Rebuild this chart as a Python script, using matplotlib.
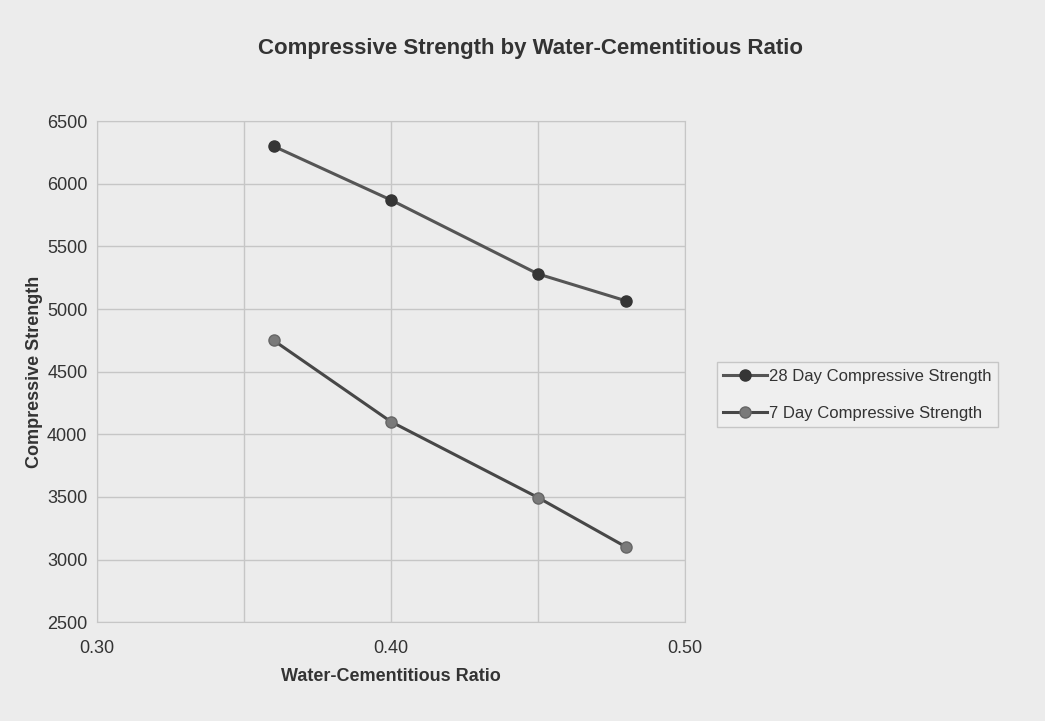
"""Compressive strength vs water-cementitious ratio chart."""

import matplotlib

matplotlib.use("Agg")
import matplotlib.pyplot as plt  # noqa: E402
from matplotlib.ticker import MultipleLocator  # noqa: E402

wc_ratio = [0.36, 0.40, 0.45, 0.48]
strength_28_day = [6300, 5870, 5280, 5065]
strength_7_day = [4750, 4100, 3495, 3100]
series_labels = ["28 Day Compressive Strength", "7 Day Compressive Strength"]
x_ticks = [0.30, 0.40, 0.50]
y_ticks = [2500, 3000, 3500, 4000, 4500, 5000, 5500, 6000, 6500]

plt.rcParams["font.family"] = ["Liberation Sans", "DejaVu Sans"]

bg = "#ececec"
ink = "#333333"
fig = plt.figure(figsize=(10.45, 7.21), dpi=100, facecolor=bg)
ax = fig.add_axes([0.093, 0.137, 0.5625, 0.695], facecolor=bg)

ax.plot(wc_ratio, strength_28_day, color="#555555", lw=2.2, marker="o", ms=8,
        mfc="#353535", mec="#353535", label=series_labels[0], zorder=3)
ax.plot(wc_ratio, strength_7_day, color="#474747", lw=2.2, marker="o", ms=8,
        mfc="#7a7a7a", mec="#666666", label=series_labels[1], zorder=3)

ax.set_xlim(0.30, 0.50)
ax.set_ylim(2500, 6500)
ax.set_xticks(x_ticks)
ax.set_xticklabels([f"{v:.2f}" for v in x_ticks])
ax.xaxis.set_minor_locator(MultipleLocator(0.05))
ax.set_yticks(y_ticks)
ax.grid(True, which="both", color="#c6c6c6", lw=1)
ax.set_axisbelow(True)
for side in ax.spines.values():
    side.set_color("#c6c6c6")
ax.tick_params(which="both", length=0, labelsize=13, colors=ink)
ax.tick_params(axis="x", pad=13)
ax.tick_params(axis="y", pad=7)

ax.set_xlabel("Water-Cementitious Ratio", fontsize=13, fontweight="bold",
              color=ink, labelpad=8)
ax.set_ylabel("Compressive Strength", fontsize=13, fontweight="bold",
              color=ink, labelpad=3)
fig.suptitle("Compressive Strength by Water-Cementitious Ratio", x=0.508, y=0.947,
             fontsize=16, fontweight="bold", color=ink)

leg = ax.legend(loc="center left", bbox_to_anchor=(1.054, 0.454), fontsize=12,
                frameon=True, fancybox=False, handlelength=2.6, borderpad=0.4,
                labelspacing=1.3, handletextpad=0.15, facecolor="#f1f1f1",
                borderaxespad=0)
leg.get_frame().set_edgecolor("#bdbdbd")
for text in leg.get_texts():
    text.set_color(ink)

fig.savefig("out.png", dpi=100, facecolor=bg)
